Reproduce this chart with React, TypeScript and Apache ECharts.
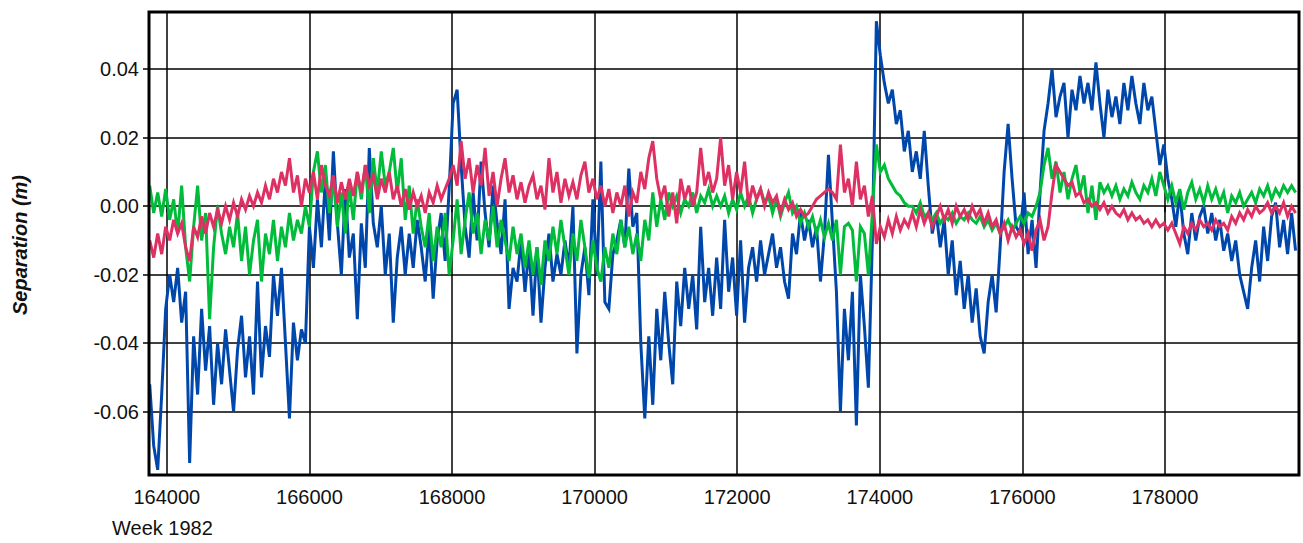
import React, { useEffect, useRef } from "react";
import * as echarts from "echarts";

// Sampling of the time axis (seconds of GPS week 1982)
const X_START = 163760;
const X_STEP = 56;
const X_MIN = 163750;
const X_MAX = 179880;
const Y_MIN = -0.0785;
const Y_MAX = 0.0567;

const X_LABEL_NOTE = "Week 1982";
const Y_NAME = "Separation (m)";

const BLUE = [
  -0.052, -0.070, -0.077, -0.055, -0.030, -0.020, -0.028, -0.018, -0.034, -0.025, -0.075, -0.038,
  -0.055, -0.030, -0.048, -0.035, -0.058, -0.040, -0.052, -0.036, -0.048, -0.060, -0.042, -0.032,
  -0.050, -0.038, -0.055, -0.022, -0.050, -0.035, -0.044, -0.020, -0.032, -0.018, -0.040, -0.062,
  -0.034, -0.045, -0.036, -0.040, -0.006, -0.018, 0.002, -0.012, 0.008, -0.010, 0.016, -0.005,
  -0.020, 0.005, -0.015, -0.008, -0.033, -0.005, -0.018, 0.017, -0.005, -0.012, 0.000, -0.020,
  -0.008, -0.034, -0.015, -0.006, -0.020, -0.008, -0.018, -0.004, -0.012, -0.022, -0.006, -0.027,
  -0.010, -0.002, -0.016, 0.005, 0.030, 0.034, 0.012, -0.006, -0.015, 0.004, -0.010, 0.013,
  -0.002, -0.012, 0.006, -0.005, -0.014, 0.002, -0.030, -0.018, -0.022, -0.010, -0.025, -0.012,
  -0.032, -0.012, -0.034, -0.018, -0.008, -0.022, -0.014, -0.020, -0.010, -0.018, 0.000, -0.043,
  -0.020, -0.012, -0.026, 0.002, -0.020, 0.013, -0.028, -0.030, -0.014, -0.010, -0.004, -0.012,
  0.011, -0.006, -0.002, -0.040, -0.062, -0.038, -0.058, -0.030, -0.045, -0.025, -0.040, -0.052,
  -0.022, -0.035, -0.018, -0.030, -0.020, -0.036, -0.006, -0.028, -0.018, -0.032, -0.015, -0.030,
  -0.004, -0.025, -0.015, -0.032, -0.010, -0.034, -0.018, -0.012, -0.022, -0.010, -0.020, -0.014,
  -0.008, -0.018, -0.012, -0.022, -0.027, -0.008, -0.014, -0.002, -0.010, -0.004, -0.012, -0.006,
  -0.022, -0.008, 0.015, -0.005, -0.025, -0.060, -0.030, -0.045, -0.025, -0.064, -0.020, -0.035,
  -0.053, -0.010, 0.054, 0.044, 0.036, 0.030, 0.034, 0.024, 0.028, 0.016, 0.022, 0.010,
  0.016, 0.008, 0.022, 0.006, -0.008, -0.002, -0.012, -0.004, -0.020, -0.010, -0.026, -0.016,
  -0.030, -0.020, -0.034, -0.024, -0.038, -0.043, -0.028, -0.020, -0.031, -0.012, 0.010, 0.024,
  0.008, -0.006, -0.008, 0.004, -0.014, -0.004, -0.018, 0.004, 0.022, 0.030, 0.040, 0.026,
  0.032, 0.036, 0.020, 0.034, 0.028, 0.038, 0.030, 0.036, 0.028, 0.042, 0.030, 0.020,
  0.034, 0.026, 0.032, 0.024, 0.036, 0.028, 0.038, 0.030, 0.024, 0.036, 0.028, 0.032,
  0.022, 0.012, 0.018, 0.008, 0.002, -0.006, 0.004, -0.008, -0.014, -0.002, -0.010, -0.003,
  0.000, -0.008, -0.002, -0.010, -0.004, -0.013, -0.008, -0.016, -0.010, -0.020, -0.025, -0.030,
  -0.018, -0.010, -0.022, -0.006, -0.016, -0.003, 0.001, -0.012, -0.004, -0.014, -0.002, -0.013,
];

const GREEN = [
  0.006, -0.002, 0.004, -0.003, 0.005, -0.004, 0.002, -0.008, 0.006, -0.012, -0.022, -0.006,
  0.006, -0.010, -0.002, -0.033, -0.012, 0.000, -0.008, -0.014, -0.006, -0.012, -0.002, -0.016,
  -0.006, -0.020, -0.010, -0.004, -0.022, -0.008, -0.014, -0.004, -0.016, -0.006, -0.012, -0.002,
  -0.010, -0.004, -0.008, 0.000, -0.006, 0.010, 0.016, 0.004, 0.012, -0.002, 0.008, -0.006,
  0.004, -0.008, 0.006, -0.004, 0.010, 0.002, 0.012, -0.002, 0.014, 0.004, 0.016, 0.006,
  0.010, 0.017, 0.004, 0.014, -0.004, 0.006, -0.008, 0.002, -0.006, -0.012, -0.002, -0.016,
  -0.006, -0.012, -0.002, -0.020, -0.010, 0.002, -0.014, -0.004, 0.004, -0.008, -0.002, -0.014,
  -0.004, -0.010, 0.000, -0.012, -0.004, -0.010, -0.016, -0.006, -0.014, -0.008, -0.018, -0.010,
  -0.020, -0.012, -0.023, -0.010, -0.016, -0.006, -0.014, -0.004, -0.012, -0.020, -0.008, -0.016,
  -0.004, -0.012, -0.021, -0.010, -0.018, -0.022, -0.012, -0.018, -0.008, -0.014, -0.004, -0.012,
  -0.006, -0.014, -0.008, -0.016, -0.004, -0.010, 0.004, -0.006, 0.002, -0.004, 0.004, 0.000,
  0.003, -0.002, 0.002, 0.000, 0.004, -0.002, 0.003, 0.001, 0.005, 0.000, 0.003, 0.000,
  0.003, -0.002, 0.002, -0.001, 0.004, 0.000, 0.003, -0.002, 0.002, 0.005, 0.001, 0.003,
  -0.002, 0.002, -0.003, 0.001, 0.004, -0.002, 0.000, -0.005, -0.002, -0.006, -0.003, -0.008,
  -0.004, -0.009, -0.005, -0.010, -0.004, -0.020, -0.006, -0.005, -0.007, -0.022, -0.006, -0.008,
  -0.020, -0.002, 0.018, 0.010, 0.012, 0.008, 0.006, 0.004, 0.003, 0.001, 0.000, 0.000,
  -0.002, 0.001, -0.003, -0.002, -0.004, -0.002, -0.005, -0.003, -0.004, -0.002, -0.005, -0.003,
  -0.004, -0.002, -0.004, -0.005, -0.003, -0.006, -0.004, -0.007, -0.005, -0.008, -0.006, -0.004,
  -0.007, -0.005, -0.003, -0.005, -0.002, -0.003, 0.000, 0.004, 0.012, 0.017, 0.008, 0.013,
  0.004, 0.010, 0.002, 0.008, 0.012, 0.004, 0.009, -0.002, 0.006, -0.004, 0.007, 0.004,
  0.006, 0.003, 0.006, 0.002, 0.005, 0.003, 0.007, 0.004, 0.002, 0.006, 0.004, 0.008,
  0.003, 0.010, 0.006, 0.002, 0.006, 0.001, 0.005, -0.001, 0.004, 0.007, 0.002, 0.005,
  0.001, 0.006, 0.002, 0.005, 0.001, 0.004, -0.002, 0.003, 0.001, 0.004, 0.000, 0.002,
  0.004, 0.001, 0.005, 0.003, 0.006, 0.002, 0.005, 0.003, 0.006, 0.004, 0.006, 0.004,
];

const RED = [
  -0.010, -0.015, -0.008, -0.014, -0.006, -0.010, -0.004, -0.008, -0.005, -0.012, -0.016, -0.006,
  -0.009, -0.003, -0.008, -0.002, -0.006, -0.001, -0.005, 0.000, -0.004, 0.001, -0.003, 0.002,
  -0.001, 0.003, 0.000, 0.004, 0.001, 0.006, 0.002, 0.008, 0.004, 0.010, 0.006, 0.014,
  0.004, 0.009, 0.000, 0.008, 0.004, 0.010, 0.002, 0.012, 0.006, 0.003, 0.009, 0.001,
  0.007, 0.002, 0.008, 0.003, 0.010, 0.004, 0.012, 0.006, 0.009, 0.002, 0.008, 0.004,
  0.010, 0.002, 0.006, 0.000, 0.005, -0.001, 0.004, 0.000, 0.003, -0.002, 0.004, 0.001,
  0.006, 0.002, 0.005, 0.008, 0.012, 0.006, 0.019, 0.008, 0.014, 0.004, 0.012, 0.006,
  0.017, 0.003, 0.010, 0.000, 0.008, 0.014, 0.004, 0.009, 0.002, 0.007, 0.001, 0.006,
  0.009, 0.002, 0.006, -0.001, 0.014, 0.004, 0.010, 0.001, 0.008, 0.003, 0.007, 0.002,
  0.009, 0.013, 0.004, 0.008, 0.002, 0.006, 0.000, 0.005, -0.002, 0.004, 0.000, 0.006,
  -0.003, 0.004, 0.001, 0.010, 0.005, 0.014, 0.019, 0.008, 0.002, 0.006, -0.003, 0.004,
  -0.005, 0.008, 0.002, 0.006, 0.000, 0.004, 0.017, 0.006, 0.010, 0.004, 0.008, 0.020,
  0.006, 0.012, 0.002, 0.010, 0.004, 0.013, 0.000, 0.006, 0.002, 0.005, 0.000, 0.004,
  0.001, 0.003, -0.002, 0.002, -0.001, 0.001, -0.003, -0.001, -0.003, -0.002, 0.000, 0.002,
  0.003, 0.004, 0.005, 0.004, 0.002, 0.018, 0.004, 0.008, 0.000, 0.013, 0.002, 0.006,
  -0.003, 0.003, -0.011, -0.006, -0.009, -0.004, -0.008, -0.003, -0.007, -0.004, -0.006, -0.002,
  -0.006, -0.001, -0.005, -0.002, -0.006, -0.003, 0.000, -0.004, -0.001, -0.005, 0.000, -0.003,
  -0.001, -0.004, 0.000, -0.003, -0.001, -0.005, -0.002, -0.006, -0.004, -0.008, -0.005, -0.010,
  -0.006, -0.009, -0.007, -0.011, -0.008, -0.013, -0.007, -0.004, -0.010, -0.006, 0.004, 0.012,
  0.010, 0.008, 0.006, 0.007, 0.003, 0.004, 0.001, 0.002, 0.000, 0.001, -0.001, 0.001,
  -0.002, 0.000, -0.002, -0.003, -0.001, -0.004, -0.002, -0.004, -0.003, -0.005, -0.004, -0.006,
  -0.004, -0.006, -0.005, -0.007, -0.005, -0.008, -0.011, -0.006, -0.008, -0.005, -0.007, -0.004,
  -0.006, -0.005, -0.007, -0.004, -0.006, -0.005, -0.007, -0.003, -0.005, -0.002, -0.004, -0.001,
  -0.003, 0.000, -0.002, -0.001, 0.001, -0.002, 0.000, -0.002, 0.001, -0.003, 0.000, -0.002,
];

const FONT = "'Liberation Sans', Arial, sans-serif";

function toPoints(values: number[]): number[][] {
  return values.map((v, i) => [X_START + i * X_STEP, v]);
}

export default function App() {
  const ref = useRef<HTMLDivElement>(null);

  useEffect(() => {
    document.body.style.margin = "0";
    const chart = echarts.init(ref.current!, null, { renderer: "svg" });
    const lineSeries = (name: string, color: string, values: number[], z: number) => ({
      name,
      type: "line",
      data: toPoints(values),
      showSymbol: false,
      symbol: "none",
      z,
      lineStyle: { color, width: 3, join: "miter" },
      emphasis: { disabled: true },
    });
    chart.setOption({
      animation: false,
      backgroundColor: "#ffffff",
      grid: {
        left: 149,
        top: 12,
        right: 4,
        bottom: 68,
        show: true,
        borderColor: "#000000",
        borderWidth: 3,
        backgroundColor: "transparent",
        z: 10,
      },
      xAxis: {
        type: "value",
        min: X_MIN,
        max: X_MAX,
        splitNumber: 8,
        axisLine: { show: false },
        axisTick: { show: true, length: 6, lineStyle: { color: "#000", width: 1.5 } },
        axisLabel: {
          showMinLabel: false,
          showMaxLabel: false,
          margin: 12,
          color: "#111",
          fontSize: 20,
          fontFamily: FONT,
          formatter: (v: number) => String(Math.round(v)),
        },
        splitLine: { show: true, lineStyle: { color: "#000", width: 1.5 } },
      },
      yAxis: {
        type: "value",
        min: Y_MIN,
        max: Y_MAX,
        splitNumber: 7,
        axisLine: { show: false },
        axisTick: { show: true, length: 6, lineStyle: { color: "#000", width: 1.5 } },
        axisLabel: {
          showMinLabel: false,
          showMaxLabel: false,
          margin: 10,
          color: "#111",
          fontSize: 20,
          fontFamily: FONT,
          formatter: (v: number) => v.toFixed(2),
        },
        splitLine: { show: true, lineStyle: { color: "#000", width: 1.5 } },
      },
      graphic: [
        {
          type: "text",
          left: 112,
          top: 518,
          style: { text: X_LABEL_NOTE, fill: "#111", font: `20px ${FONT}` },
        },
        {
          type: "text",
          x: 20,
          y: 245,
          rotation: Math.PI / 2,
          style: {
            text: Y_NAME,
            fill: "#111",
            font: `italic bold 20px ${FONT}`,
            align: "center",
            verticalAlign: "middle",
          },
        },
      ],
      series: [
        lineSeries("Blue", "#0047AB", BLUE, 2),
        lineSeries("Green", "#00BC3A", GREEN, 3),
        lineSeries("Red", "#DE3163", RED, 4),
      ],
    });
    return () => chart.dispose();
  }, []);

  return <div ref={ref} style={{ width: 1303, height: 543 }} />;
}
